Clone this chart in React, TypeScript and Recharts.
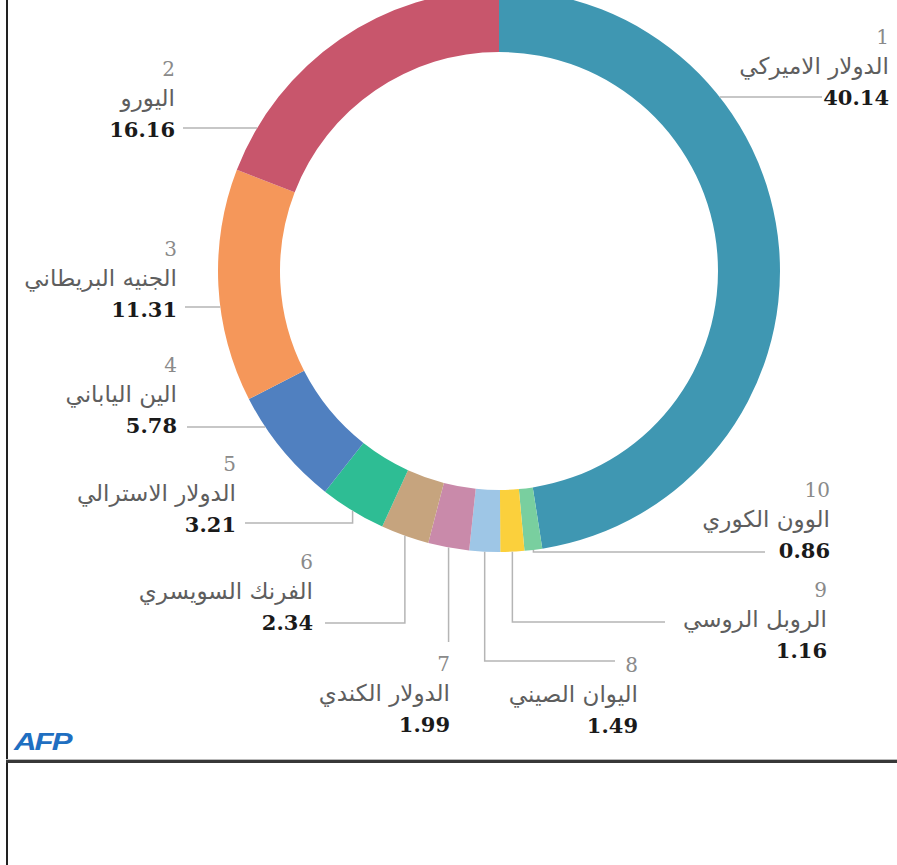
import { PieChart, Pie, Cell } from "recharts";

// clockwise from 12 o'clock: rank 1, then 10 down to 2
const names = [
  "الدولار الاميركي",
  "الوون الكوري",
  "الروبل الروسي",
  "اليوان الصيني",
  "الدولار الكندي",
  "الفرنك السويسري",
  "الدولار الاسترالي",
  "الين الياباني",
  "الجنيه البريطاني",
  "اليورو",
];
const ranks = [1, 10, 9, 8, 7, 6, 5, 4, 3, 2];
const shares = [40.14, 0.86, 1.16, 1.49, 1.99, 2.34, 3.21, 5.78, 11.31, 16.16];
const colors = [
  "#3f97b2",
  "#79cf9f",
  "#fbd03c",
  "#9ec6e6",
  "#c98aaa",
  "#c6a47e",
  "#2ebd94",
  "#5080c0",
  "#f5975a",
  "#c8566c",
];

// where each label block sits (right edge, value baseline) and how its leader runs
const labelSpots = [
  { x: 889, y: 105, kind: "h", lineY: 97, tip: 822 },
  { x: 830, y: 558, kind: "elbow", lineY: 552, tip: 765 },
  { x: 827, y: 658, kind: "elbow", lineY: 622, tip: 665 },
  { x: 638, y: 733, kind: "elbow", lineY: 661, tip: 615 },
  { x: 450, y: 732, kind: "v", lineY: 642, tip: 0 },
  { x: 313, y: 630, kind: "elbow", lineY: 623, tip: 325 },
  { x: 236, y: 532, kind: "elbow", lineY: 523, tip: 245 },
  { x: 177, y: 433, kind: "h", lineY: 427, tip: 187 },
  { x: 177, y: 317, kind: "h", lineY: 307, tip: 185 },
  { x: 175, y: 137, kind: "h", lineY: 128, tip: 183 },
];

const chartData = names.map((name, i) => ({
  name,
  rank: ranks[i],
  value: shares[i],
}));

const RAD = Math.PI / 180;

function renderLabel(props: any) {
  const { cx, cy, midAngle, outerRadius, index } = props;
  const spot = labelSpots[index];
  if (!spot) return null;
  const r = outerRadius;
  let d = "";
  if (spot.kind === "h") {
    const side = spot.tip < cx ? -1 : 1;
    const dy = spot.lineY - cy;
    const edgeX = cx + side * Math.sqrt(Math.max(r * r - dy * dy, 0));
    d = `M${spot.tip},${spot.lineY}L${edgeX},${spot.lineY}`;
  } else {
    const px = cx + r * Math.cos(-midAngle * RAD);
    const py = cy + r * Math.sin(-midAngle * RAD);
    d = `M${px},${py}L${px},${spot.lineY}`;
    if (spot.kind === "elbow") d += `L${spot.tip},${spot.lineY}`;
  }
  return (
    <g key={`lbl-${index}`}>
      <path d={d} stroke="#b5b5b5" strokeWidth={1.5} fill="none" />
      <text
        x={spot.x}
        y={spot.y - 61}
        textAnchor="end"
        fontFamily="'DejaVu Serif', serif"
        fontSize={20}
        fill="#8a8a8a"
      >
        {chartData[index].rank}
      </text>
      <text
        x={spot.x}
        y={spot.y - 31}
        textAnchor="end"
        fontFamily="'DejaVu Sans', sans-serif"
        fontSize={23}
        fill="#5e5e5e"
      >
        {chartData[index].name}
      </text>
      <text
        x={spot.x}
        y={spot.y}
        textAnchor="end"
        fontFamily="'DejaVu Serif', serif"
        fontWeight="bold"
        fontSize={21}
        fill="#1a1a1a"
      >
        {chartData[index].value.toFixed(2)}
      </text>
    </g>
  );
}

export default function App() {
  return (
    <div
      style={{
        position: "absolute",
        left: 0,
        top: 0,
        width: 897,
        height: 865,
        background: "#fff",
        overflow: "hidden",
      }}
    >
      <PieChart width={897} height={760}>
        <Pie
          data={chartData}
          dataKey="value"
          nameKey="name"
          cx={494}
          cy={266}
          innerRadius={219}
          outerRadius={281}
          startAngle={90}
          endAngle={-270}
          stroke="none"
          label={renderLabel}
          labelLine={false}
          isAnimationActive={false}
        >
          {chartData.map((d, i) => (
            <Cell key={d.name} fill={colors[i]} />
          ))}
        </Pie>
      </PieChart>
      <div
        style={{
          position: "absolute",
          left: 14,
          top: 728,
          fontFamily: "'Liberation Sans', Arial, sans-serif",
          fontWeight: "bold",
          fontStyle: "italic",
          fontSize: 24,
          letterSpacing: -1.5,
          color: "#1f6fc1",
          transform: "scaleX(1.3)",
          transformOrigin: "left top",
        }}
      >
        AFP
      </div>
      <div
        style={{
          position: "absolute",
          left: 6,
          top: 0,
          width: 2,
          height: 865,
          background: "#222",
        }}
      />
      <div
        style={{
          position: "absolute",
          left: 6,
          top: 759,
          width: 891,
          height: 1,
          background: "#bbb",
        }}
      />
      <div
        style={{
          position: "absolute",
          left: 6,
          top: 760,
          width: 891,
          height: 3,
          background: "#383838",
        }}
      />
    </div>
  );
}
